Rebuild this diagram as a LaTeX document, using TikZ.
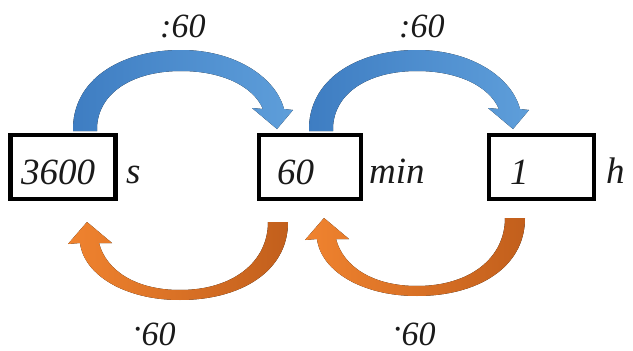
\documentclass[tikz,border=0pt]{standalone}
\usepackage{fontspec}
\setmainfont{Liberation Serif}
\usetikzlibrary{calc}

\definecolor{bluedark}{HTML}{3E7DC2}
\definecolor{bluelight}{HTML}{5E9EDA}
\definecolor{orangelight}{HTML}{F0832F}
\definecolor{orangedark}{HTML}{C25F1C}
\definecolor{ink}{HTML}{1A1A1A}

\newcommand{\raiseddot}{\raisebox{5pt}{·}}

\tikzset{
  valbox/.style={draw=black, line width=4.6pt, rectangle, minimum height=64pt, inner sep=0pt},
  valtext/.style={font=\fontsize{37}{40}\selectfont\itshape, text=ink, inner sep=0pt},
  optext/.style={font=\fontsize{34}{38}\selectfont\itshape, text=ink, inner sep=0pt},
  % upper arc: divide by 60, pointing right
  divarc/.pic={
    \fill[left color=bluedark, right color=bluelight]
      (73,131) .. controls (72,80) and (120,50) .. (181,50)
      .. controls (236,50) and (276,78) .. (284,109)
      -- (293,110) -- (277,129) -- (252,108) -- (263,109)
      .. controls (253,86) and (222,71) .. (181,71)
      .. controls (130,71) and (96,95) .. (97,131) -- cycle;
  },
  % lower arc: multiply by 60, pointing left
  mularc/.pic={
    \fill[left color=orangelight, right color=orangedark]
      (288,222) .. controls (288,272) and (240,300) .. (180,300)
      .. controls (125,300) and (84,275) .. (80,243)
      -- (68,244) -- (87,222) -- (112,243) -- (99,243)
      .. controls (106,270) and (135,290) .. (180,290)
      .. controls (233,290) and (268,262) .. (268,222) -- cycle;
  }
}

\begin{document}
\begin{tikzpicture}[x=1pt,y=-1pt]
  \useasboundingbox (0,0) rectangle (633,351);

  % value boxes
  \node[valbox, minimum width=105pt] (b1) at (63,167) {};
  \node[valbox, minimum width=102pt] (b2) at (310,167) {};
  \node[valbox, minimum width=105pt] (b3) at (541.5,167) {};

  % values
  \node[valtext, anchor=base west] (v1) at (21,184) {3600};
  \node[valtext, anchor=base west] (v2) at (277,184) {60};
  \node[valtext, anchor=base west] (v3) at (510,184) {1};

  % units
  \node[valtext, anchor=base west] (u1) at (126,183) {s};
  \node[valtext, anchor=base west] (u2) at (369,183) {min};
  \node[valtext, anchor=base west] (u3) at (606,183) {h};

  % conversion arcs
  \pic at (0,0) {divarc};
  \pic at (236,0) {divarc};
  \pic at (0,0) {mularc};
  \pic at (237,-4) {mularc};

  % operation labels
  \node[optext, anchor=base west] (d1) at (160,37) {:60};
  \node[optext, anchor=base west] (d2) at (399,37) {:60};
  \node[optext, anchor=base west] (m1) at (133,345) {\raiseddot60};
  \node[optext, anchor=base west] (m2) at (393,345) {\raiseddot60};
\end{tikzpicture}
\end{document}
